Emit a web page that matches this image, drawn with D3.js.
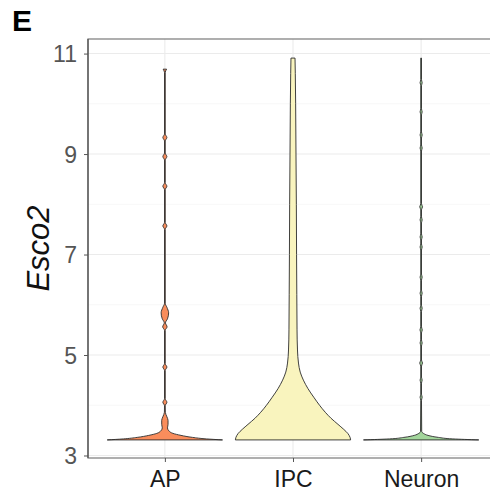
<!DOCTYPE html>
<html>
<head>
<meta charset="utf-8">
<script src="https://cdn.jsdelivr.net/npm/d3@7"></script>
<style>
	body { margin: 0; background: #fff; }
	svg text { font-family: 'Liberation Sans', Arial, sans-serif; }
</style>
</head>
<body>
<div id="chart"></div>
<script>

var categories = ['AP', 'IPC', 'Neuron']
var fills = ['#F98D5C', '#F9F4BE', '#A3D69C']
var yTicks = [3, 5, 7, 9, 11]
var yMinor = [4, 6, 8, 10]

// violin profiles : [expression, relative half width]
var apProfile = [
	[3.31, 1.0], [3.33, 0.72], [3.36, 0.48], [3.40, 0.28], [3.44, 0.14], [3.49, 0.07],
	[3.55, 0.045], [3.62, 0.055], [3.70, 0.055], [3.77, 0.035], [3.86, 0.008],
	[3.99, 0.006], [4.06, 0.035], [4.13, 0.006],
	[4.69, 0.006], [4.76, 0.035], [4.83, 0.006],
	[5.49, 0.006], [5.56, 0.038], [5.64, 0.01], [5.72, 0.045], [5.84, 0.065], [5.95, 0.035], [6.03, 0.006],
	[7.5, 0.006], [7.57, 0.035], [7.64, 0.006],
	[8.29, 0.006], [8.36, 0.035], [8.43, 0.006],
	[8.88, 0.006], [8.95, 0.035], [9.02, 0.006],
	[9.26, 0.006], [9.33, 0.035], [9.40, 0.006],
	[10.62, 0.006], [10.69, 0.03]
]

var ipcProfile = [
	[3.31, 1.0], [3.36, 0.99], [3.44, 0.95], [3.52, 0.88], [3.62, 0.78], [3.74, 0.66],
	[3.86, 0.56], [4.0, 0.46], [4.16, 0.36], [4.33, 0.26], [4.5, 0.18], [4.66, 0.125],
	[4.84, 0.095], [5.1, 0.078], [5.5, 0.07], [6.2, 0.066], [7.0, 0.062], [8.0, 0.058],
	[9.0, 0.052], [10.0, 0.046], [10.6, 0.04], [10.91, 0.035]
]

var neuronProfile = [
	[3.31, 1.0], [3.33, 0.55], [3.36, 0.3], [3.40, 0.12], [3.44, 0.04], [3.48, 0.01],
	[4.1, 0.006], [4.16, 0.018], [4.22, 0.006],
	[4.44, 0.006], [4.5, 0.018], [4.56, 0.006],
	[4.78, 0.006], [4.84, 0.024], [4.9, 0.006],
	[5.18, 0.006], [5.24, 0.018], [5.3, 0.006],
	[5.44, 0.006], [5.5, 0.02], [5.56, 0.006],
	[5.87, 0.006], [5.93, 0.018], [5.99, 0.006],
	[6.17, 0.006], [6.23, 0.018], [6.29, 0.006],
	[6.49, 0.006], [6.55, 0.018], [6.61, 0.006],
	[7.09, 0.006], [7.15, 0.018], [7.21, 0.006],
	[7.29, 0.006], [7.35, 0.018], [7.41, 0.006],
	[7.63, 0.006], [7.69, 0.018], [7.75, 0.006],
	[7.89, 0.006], [7.95, 0.024], [8.01, 0.006],
	[9.06, 0.006], [9.12, 0.018], [9.18, 0.006],
	[9.32, 0.006], [9.38, 0.018], [9.44, 0.006],
	[9.78, 0.006], [9.84, 0.018], [9.9, 0.006],
	[10.36, 0.006], [10.42, 0.018], [10.48, 0.006],
	[10.91, 0.006]
]

var profiles = [apProfile, ipcProfile, neuronProfile]

var W = 490, H = 502
var panel = { left: 88, right: 498, top: 39, bottom: 458 }

var svg = d3.select('#chart').append('svg')
	.attr('width', W)
	.attr('height', H)

var x = d3.scalePoint()
	.domain(categories)
	.range([panel.left, panel.right])
	.padding(0.6)

var y = d3.scaleLinear()
	.domain([2.95, 11.29])
	.range([panel.bottom, panel.top])

var halfW = x.step() * 0.45

// grid
var grid = svg.append('g')

grid.selectAll('.minor')
	.data(yMinor)
	.enter().append('line')
	.attr('x1', panel.left).attr('x2', panel.right)
	.attr('y1', function(d) { return y(d) }).attr('y2', function(d) { return y(d) })
	.attr('stroke', '#f4f4f4')
	.attr('stroke-width', 0.7)

grid.selectAll('.major')
	.data(yTicks)
	.enter().append('line')
	.attr('x1', panel.left).attr('x2', panel.right)
	.attr('y1', function(d) { return y(d) }).attr('y2', function(d) { return y(d) })
	.attr('stroke', '#ebebeb')
	.attr('stroke-width', 1.1)

grid.selectAll('.vert')
	.data(categories)
	.enter().append('line')
	.attr('x1', function(d) { return x(d) }).attr('x2', function(d) { return x(d) })
	.attr('y1', panel.top).attr('y2', panel.bottom)
	.attr('stroke', '#ebebeb')
	.attr('stroke-width', 1.1)

// violins
var area = d3.area()
	.curve(d3.curveMonotoneY)
	.y(function(d) { return y(d[0]) })

svg.append('g').selectAll('path')
	.data(categories)
	.enter().append('path')
	.attr('d', function(c, i) {
		var cx = x(c)
		area.x0(function(d) { return cx - d[1] * halfW })
			.x1(function(d) { return cx + d[1] * halfW })
		return area(profiles[i])
	})
	.attr('fill', function(c, i) { return fills[i] })
	.attr('stroke', '#2b2b2b')
	.attr('stroke-width', 0.9)
	.attr('stroke-linejoin', 'round')

// panel border
svg.append('rect')
	.attr('x', panel.left)
	.attr('y', panel.top)
	.attr('width', panel.right - panel.left)
	.attr('height', panel.bottom - panel.top)
	.attr('fill', 'none')
	.attr('stroke', '#7a7a7a')
	.attr('stroke-width', 1.2)

svg.append('line')
	.attr('x1', panel.left).attr('x2', panel.left)
	.attr('y1', panel.top).attr('y2', panel.bottom)
	.attr('stroke', '#555')
	.attr('stroke-width', 1.3)

// axes
var axisLeft = d3.axisLeft(y)
	.tickValues(yTicks)
	.tickSize(4)
	.tickPadding(7)

var gLeft = svg.append('g')
	.attr('transform', 'translate(' + panel.left + ',0)')
	.call(axisLeft)
gLeft.select('.domain').remove()
gLeft.selectAll('line').attr('stroke', '#555')
gLeft.selectAll('text')
	.attr('fill', '#555')
	.style('font-size', '23px')
	.attr('dy', '0.35em')

var axisBottom = d3.axisBottom(x)
	.tickSize(4)
	.tickPadding(9)

var gBottom = svg.append('g')
	.attr('transform', 'translate(0,' + panel.bottom + ')')
	.call(axisBottom)
gBottom.select('.domain').remove()
gBottom.selectAll('line').attr('stroke', '#555')
gBottom.selectAll('text')
	.attr('fill', '#1a1a1a')
	.style('font-size', '23px')

// labels
svg.append('text')
	.attr('transform', 'translate(49,' + ((panel.top + panel.bottom) / 2) + ') rotate(-90)')
	.attr('text-anchor', 'middle')
	.style('font-size', '31px')
	.style('font-style', 'italic')
	.attr('fill', '#111')
	.text('Esco2')

svg.append('text')
	.attr('x', 12)
	.attr('y', 31)
	.style('font-size', '30px')
	.style('font-weight', 'bold')
	.attr('fill', '#000')
	.text('E')

</script>
</body>
</html>
